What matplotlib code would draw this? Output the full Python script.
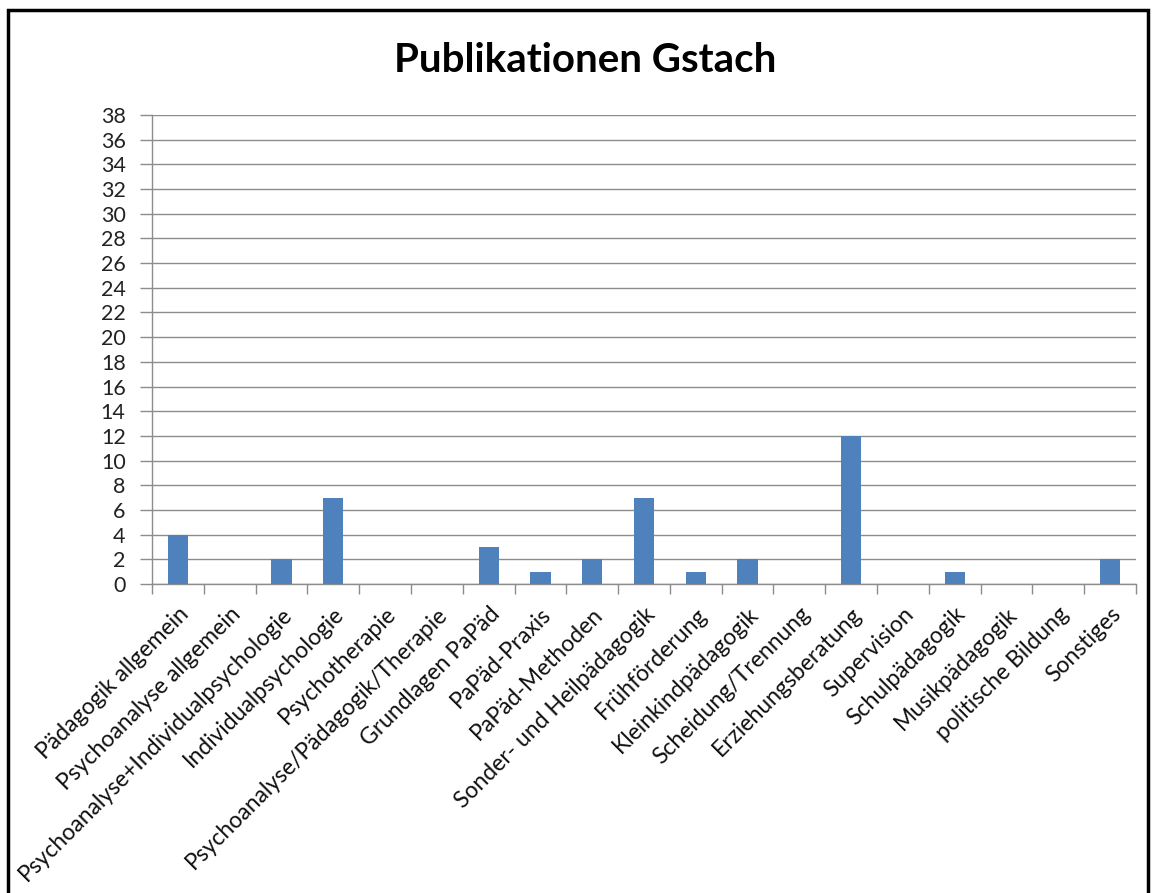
import matplotlib
matplotlib.use("Agg")
import matplotlib.pyplot as plt
from matplotlib.patches import Rectangle
import numpy as np

categories = [
    "Pädagogik allgemein",
    "Psychoanalyse allgemein",
    "Psychoanalyse+Individualpsychologie",
    "Individualpsychologie",
    "Psychotherapie",
    "Psychoanalyse/Pädagogik/Therapie",
    "Grundlagen PaPäd",
    "PaPäd-Praxis",
    "PaPäd-Methoden",
    "Sonder- und Heilpädagogik",
    "Frühförderung",
    "Kleinkindpädagogik",
    "Scheidung/Trennung",
    "Erziehungsberatung",
    "Supervision",
    "Schulpädagogik",
    "Musikpädagogik",
    "politische Bildung",
    "Sonstiges",
]
counts = [4, 0, 2, 7, 0, 0, 3, 1, 2, 7, 1, 2, 0, 12, 0, 1, 0, 0, 2]
y_ticks = list(range(0, 39, 2))

plt.rcParams["font.family"] = ["Lato", "DejaVu Sans"]

fig = plt.figure(figsize=(11.56, 8.93), dpi=100)
W, H = 1156, 893

# outer chart frame (like the Excel chart area border)
fig.patches.append(Rectangle((8 / W, -0.01), (1148 - 8) / W, 1 - 10 / H + 0.01,
                             transform=fig.transFigure, fill=False,
                             edgecolor="black", linewidth=2.5))

ax = fig.add_axes([152 / W, 1 - 584 / H, (1136 - 152) / W, (584 - 115) / H])

x = np.arange(len(categories))
ax.bar(x, counts, width=0.39, color="#4F81BD", zorder=3)

ax.set_xlim(-0.5, len(categories) - 0.5)
ax.set_ylim(0, 38)
ax.set_yticks(y_ticks)
ax.set_yticklabels([str(v) for v in y_ticks], fontsize=15.5, color="#222222")
ax.yaxis.grid(True, color="#8c8c8c", linewidth=1, zorder=0)
ax.tick_params(axis="y", length=9, width=1, color="#8c8c8c", pad=10)

ax.set_xticks(x)
ax.set_xticklabels(categories, rotation=45, ha="right", rotation_mode="anchor",
                   fontsize=16.5, color="#111111")
ax.set_xticks(np.arange(-0.5, len(categories)), minor=True)
ax.tick_params(axis="x", which="major", length=0, pad=14)
ax.tick_params(axis="x", which="minor", length=7, width=1, color="#8c8c8c")

for side in ["top", "right"]:
    ax.spines[side].set_visible(False)
for side in ["left", "bottom"]:
    ax.spines[side].set_color("#8c8c8c")
    ax.spines[side].set_linewidth(1)

fig.text(585 / W, 1 - 61 / H, "Publikationen Gstach", ha="center", va="center",
         fontsize=29, fontweight="bold")

fig.savefig("out.png", dpi=100)
